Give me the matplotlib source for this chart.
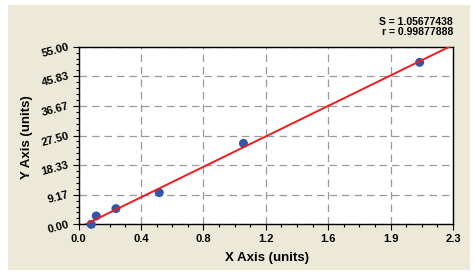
import numpy as np
import matplotlib
matplotlib.use("Agg")
import matplotlib.pyplot as plt
from matplotlib.patches import Rectangle
from matplotlib.ticker import AutoMinorLocator

# Data
x_vals = [0.078, 0.109, 0.230, 0.496, 1.013, 2.095]
y_vals = [0.0, 2.58, 4.85, 9.80, 25.07, 50.15]
x_tick_labels = ["0.0", "0.4", "0.8", "1.2", "1.6", "1.9", "2.3"]
y_tick_labels = ["0.00", "9.17", "18.33", "27.50", "36.67", "45.83", "55.00"]
x_max = 2.3
y_max = 55.0
stat_lines = ["S = 1.05677438", "r = 0.99877888"]
x_label = "X Axis (units)"
y_label = "Y Axis (units)"

plt.rcParams['font.family'] = ['Liberation Sans', 'DejaVu Sans']

W, H = 475, 278
fig = plt.figure(figsize=(W / 100, H / 100), dpi=100, facecolor='white')

# beige panel
fig.patches.append(Rectangle((8 / W, 1 - 270 / H), (470 - 8) / W, (270 - 5) / H,
                             transform=fig.transFigure, facecolor='#ECE9D8',
                             edgecolor='none', zorder=-10))

left, right, top, bottom = 78.5, 453, 46.7, 224.3
ax = fig.add_axes([left / W, 1 - bottom / H, (right - left) / W, (bottom - top) / H])
ax.set_zorder(5)
ax.set_facecolor('white')
ax.set_xlim(0, x_max)
ax.set_ylim(0, y_max)

xt = np.linspace(0, x_max, len(x_tick_labels))
yt = np.linspace(0, y_max, len(y_tick_labels))
ax.set_xticks(xt)
ax.set_xticklabels(x_tick_labels, fontsize=8, fontweight='bold')
ax.set_yticks(yt)
ax.set_yticklabels(y_tick_labels, fontsize=8, fontweight='bold', rotation=15,
                   rotation_mode='anchor', ha='right', va='center')
ax.xaxis.set_minor_locator(AutoMinorLocator(4))
ax.yaxis.set_minor_locator(AutoMinorLocator(5))
ax.tick_params(which='major', direction='out', length=4, width=0.8, color='black')
ax.tick_params(which='minor', direction='out', length=2.5, width=0.8, color='black')
ax.tick_params(axis='x', pad=3)
ax.tick_params(axis='y', pad=3)

for s in ax.spines.values():
    s.set_color('black')
    s.set_linewidth(1.0)

ax.grid(True, which='major', color='#9a9a9a', linestyle=(0, (6, 4)), linewidth=0.9)
ax.set_axisbelow(True)

# regression line
a, b = np.polyfit(x_vals, y_vals, 1)
x0 = -b / a
lx = np.array([x0, x_max])
ax.scatter(x_vals, y_vals, s=42, color='#3355AA', zorder=3, edgecolors='none',
           clip_on=False)
ax.plot(lx, a * lx + b, color='#EE1C1C', linewidth=1.4, zorder=4)

fig.text(267 / W, 1 - 258 / H, x_label, ha='center', va='center',
         fontsize=9.5, fontweight='bold')
fig.text(27 / W, 1 - 137 / H, y_label, ha='center', va='center', rotation=90,
         fontsize=9.5, fontweight='bold')
fig.text(453 / W, 1 - 21.7 / H, stat_lines[0], ha='right', va='center',
         fontsize=7.5, fontweight='bold')
fig.text(453 / W, 1 - 31.7 / H, stat_lines[1], ha='right', va='center',
         fontsize=7.5, fontweight='bold')

fig.savefig('out.png', dpi=100, facecolor='white')
